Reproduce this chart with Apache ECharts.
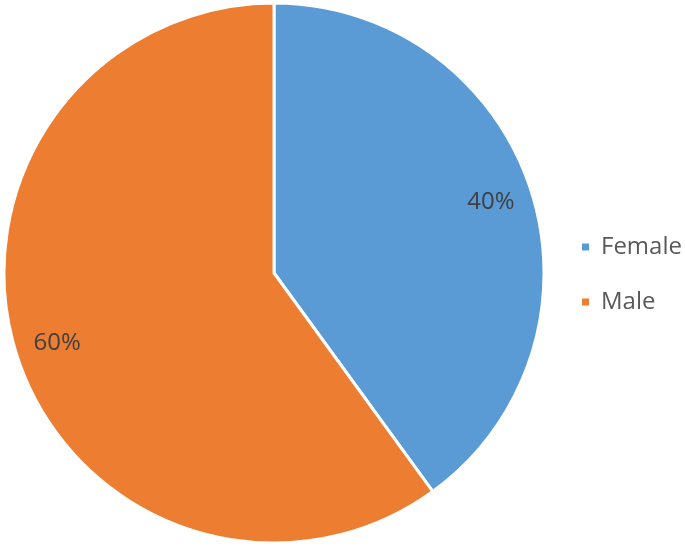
<!DOCTYPE html>
<html>
<head>
<meta charset="utf-8">
<script src="https://cdn.jsdelivr.net/npm/echarts@6/dist/echarts.min.js"></script>
<style>
  html, body { margin: 0; padding: 0; background: #fff; }
  #pie { width: 685px; height: 548px; }
</style>
</head>
<body>
<div id="pie"></div>
<script>
const categories = ["Female", "Male"];
const shares = [40, 60];
const colors = ["#5B9BD5", "#ED7D31"];

const pieData = categories.map((name, i) => ({ name: name, value: shares[i] }));

let myChart = echarts.init(document.getElementById("pie"));
myChart.setOption({
  backgroundColor: "#ffffff",
  color: colors,
  animation: false,
  legend: {
    orient: "vertical",
    left: 575,
    top: 230,
    icon: "rect",
    itemWidth: 9,
    itemHeight: 9,
    itemGap: 31,
    data: categories,
    textStyle: {
      fontFamily: "Open Sans",
      fontSize: 24,
      color: "#595959",
      padding: [0, 0, 0, 6],
    },
  },
  series: [{
    name: "Gender",
    type: "pie",
    center: [274, 273],
    radius: [0, 270],
    startAngle: 90,
    clockwise: true,
    data: pieData,
    itemStyle: {
      borderColor: "#ffffff",
      borderWidth: 3,
    },
    label: { show: false },
    labelLine: { show: false },
  }, {
    // transparent ring that only carries the percentage labels
    name: "labels",
    type: "pie",
    center: [274, 273],
    radius: [180, 270],
    startAngle: 90,
    silent: true,
    data: pieData,
    itemStyle: { color: "transparent" },
    label: {
      show: true,
      position: "inside",
      formatter: "{d}%",
      fontFamily: "Open Sans",
      fontSize: 24,
      color: "#404040",
    },
    labelLine: { show: false },
  }],
});
window.onresize = function() {
  myChart.resize();
};
</script>
</body>
</html>
